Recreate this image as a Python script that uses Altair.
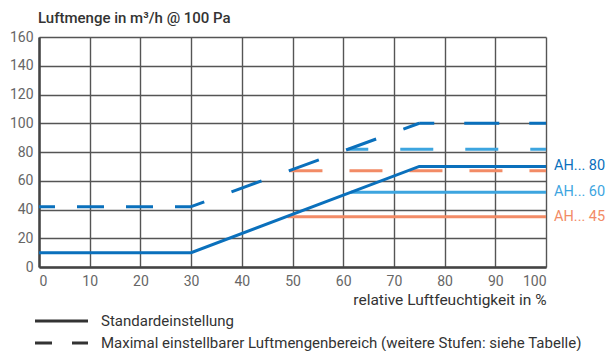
import altair as alt
import pandas as pd

# ---- data ----
x_std_80 = [0, 30, 75, 100]
y_std_80 = [10, 10, 70, 70]
x_std_60 = [61.5, 100]
y_std_60 = [52, 52]
x_std_45 = [49, 100]
y_std_45 = [35, 35]

x_max_80_flat = [0, 30]
y_max_80_flat = [42, 42]
x_max_80_ramp = [30, 75]
y_max_80_ramp = [42, 100]
x_max_80_top = [75, 100]
y_max_80_top = [100, 100]
x_max_60 = [61, 100]
y_max_60 = [82, 82]
x_max_45 = [49.4, 100]
y_max_45 = [67, 67]

labels = ["AH... 80", "AH... 60", "AH... 45"]
label_y = [70, 52, 35]

x_ticks = list(range(0, 101, 10))
y_ticks = list(range(0, 161, 20))

C80 = "#0A70BC"
C60 = "#3DA5DF"
C45 = "#F28B66"
FONT = "Roboto"
W, H = 507, 230

xs = alt.Scale(domain=[0, 100], nice=False)
ys = alt.Scale(domain=[0, 160], nice=False)

XAX = alt.Axis(values=x_ticks, title="relative Luftfeuchtigkeit in %", grid=True, ticks=False)
YAX = alt.Axis(values=y_ticks, title=None, grid=True, ticks=False)


def X(field="x:Q"):
    return alt.X(field, scale=xs, axis=XAX)


def Y(field="y:Q"):
    return alt.Y(field, scale=ys, axis=YAX)


def df(x, y):
    return pd.DataFrame({"x": x, "y": y})


def line(x, y, color, dash=None, offset=0):
    kw = dict(color=color, strokeWidth=3, strokeCap="butt")
    if dash:
        kw["strokeDash"] = dash
        kw["strokeDashOffset"] = offset
    return alt.Chart(df(x, y)).mark_line(**kw).encode(x=X(), y=Y())


layers = [
    line(x_max_45, y_max_45, C45, [33, 27], 0),
    line(x_max_60, y_max_60, C60, [33, 32], 13),
    line(x_std_45, y_std_45, C45),
    line(x_std_60, y_std_60, C60),
    line(x_max_80_flat, y_max_80_flat, C80, [27, 22], 11),
    line(x_max_80_ramp, y_max_80_ramp, C80, [32, 29], 18),
    line(x_max_80_top, y_max_80_top, C80, [35, 30], 20),
    line(x_std_80, y_std_80, C80),
]

lab_df = pd.DataFrame({"x": [100] * 3, "y": label_y, "t": labels})
lab = alt.Chart(lab_df).mark_text(align="left", baseline="middle", dx=8, fontSize=14.5,
                                   font=FONT).encode(
    x=X(), y=Y(), text="t:N",
    color=alt.Color("t:N", scale=alt.Scale(domain=labels, range=[C80, C60, C45]), legend=None),
)
layers.append(lab)

ytitle = alt.Chart(pd.DataFrame({"t": ["Luftmenge in m³/h @ 100 Pa"]})).mark_text(
    align="left", baseline="middle", fontSize=15, font=FONT, color="#333333", fontWeight=500
).encode(x=alt.value(-1), y=alt.value(-19), text="t:N")
layers.append(ytitle)

leg_solid = alt.Chart(pd.DataFrame({"a": [0]})).mark_rule(color="#333333", strokeWidth=3).encode(
    x=alt.value(-4), x2=alt.value(49), y=alt.value(284))
leg_dash = alt.Chart(pd.DataFrame({"a": [0]})).mark_rule(color="#333333", strokeWidth=3,
                                                          strokeDash=[17, 20]).encode(
    x=alt.value(-4), x2=alt.value(49), y=alt.value(306))
leg_text = alt.Chart(pd.DataFrame({
    "t": ["Standardeinstellung",
          "Maximal einstellbarer Luftmengenbereich (weitere Stufen: siehe Tabelle)"],
    "py": [284, 306]})).mark_text(align="left", baseline="middle", fontSize=15, font=FONT,
                                  color="#333333").encode(
    x=alt.value(62), y=alt.Y("py:Q", scale=None, axis=None), text="t:N")
layers += [leg_solid, leg_dash, leg_text]

chart = alt.layer(*layers).properties(
    width=W, height=H,
    autosize=alt.AutoSizeParams(type="none"),
    padding={"left": 31, "top": 29, "right": 60, "bottom": 84},
).configure_view(stroke=None).configure_axis(
    gridColor="#555555", gridWidth=1.4, gridOpacity=1,
    domainColor="#444444", domainWidth=2.5,
    labelFont=FONT, labelFontSize=14, labelColor="#666666", labelPadding=6,
    titleFont=FONT, titleFontSize=15.5, titleColor="#333333", titleFontWeight="normal",
).configure_axisX(
    titleAnchor="end", titleAlign="right", titlePadding=4, labelPadding=7,
)

chart.save("out.html", embed_options={"renderer": "svg", "actions": False})
